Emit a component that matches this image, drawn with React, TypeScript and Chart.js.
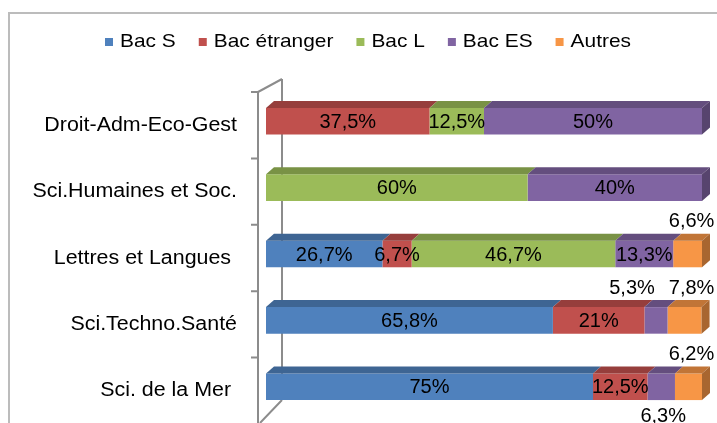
import React, { useEffect, useRef } from "react";
import { Chart, registerables } from "chart.js";
Chart.register(...registerables);

const categories = [
  "Droit-Adm-Eco-Gest",
  "Sci.Humaines et Soc.",
  "Lettres et Langues ",
  "Sci.Techno.Santé",
  "Sci. de la Mer ",
];
const seriesNames = ["Bac S", "Bac étranger", "Bac L", "Bac ES", "Autres"];
const bacS = [0, 0, 26.7, 65.8, 75];
const bacEtranger = [37.5, 0, 6.7, 21, 12.5];
const bacL = [12.5, 60, 46.7, 0, 0];
const bacES = [50, 40, 13.3, 5.3, 6.3];
const autres = [0, 0, 6.6, 7.8, 6.2];
const seriesValues = [bacS, bacEtranger, bacL, bacES, autres];

const colors = ["#4F81BD", "#C0504D", "#9BBB59", "#8064A2", "#F79646"];

// label placement for small segments: key = "categoryIndex-datasetIndex"
const outsideLabels: Record<string, { pos: "above" | "below"; dx: number }> = {
  "2-4": { pos: "above", dx: 4 },
  "3-3": { pos: "above", dx: -24 },
  "3-4": { pos: "above", dx: 7 },
  "4-4": { pos: "above", dx: 3 },
  "4-3": { pos: "below", dx: 2 },
};

const FONT = '"Liberation Sans", Arial, sans-serif';
const DX = 8;
const DY = -7;

function shade(hex: string, f: number) {
  const n = parseInt(hex.slice(1), 16);
  const r = Math.round(((n >> 16) & 255) * f);
  const g = Math.round(((n >> 8) & 255) * f);
  const b = Math.round((n & 255) * f);
  return `rgb(${r},${g},${b})`;
}

function fmt(v: number) {
  return String(v).replace(".", ",") + "%";
}

function drawScaledText(
  ctx: CanvasRenderingContext2D,
  text: string,
  x: number,
  y: number,
  size: number,
  sx: number,
  align: CanvasTextAlign
) {
  ctx.save();
  ctx.translate(x, y);
  ctx.scale(sx, 1);
  ctx.font = `${size}px ${FONT}`;
  ctx.textAlign = align;
  ctx.textBaseline = "middle";
  ctx.fillText(text, 0, 0);
  ctx.restore();
}

const decorPlugin = {
  id: "decor",
  beforeDraw(chart: any) {
    const ctx: CanvasRenderingContext2D = chart.ctx;
    ctx.save();
    // outer frame
    ctx.strokeStyle = "#bcbcbc";
    ctx.lineWidth = 2;
    ctx.beginPath();
    ctx.moveTo(9, chart.height + 5);
    ctx.lineTo(9, 13);
    ctx.lineTo(chart.width + 5, 13);
    ctx.stroke();

    // legend
    const legSize = 19;
    const legSx = 1.1;
    let x = 105;
    const ly = 42;
    chart.data.datasets.forEach((ds: any, k: number) => {
      ctx.fillStyle = colors[k];
      ctx.fillRect(x, ly - 4, 8, 8);
      ctx.fillStyle = "#000";
      drawScaledText(ctx, ds.label, x + 15, ly, legSize, legSx, "left");
      ctx.font = `${legSize}px ${FONT}`;
      const w = ctx.measureText(ds.label).width * legSx;
      x += 15 + w + 23;
    });
    ctx.restore();
  },
  beforeDatasetsDraw(chart: any) {
    const ctx: CanvasRenderingContext2D = chart.ctx;
    const ys = chart.scales.y;
    const { left } = chart.chartArea;
    const band = ys.getPixelForValue(1) - ys.getPixelForValue(0);
    const fx = left - 8;
    const bx = left + 16;
    const tickTop = ys.getPixelForValue(0) - band / 2 + 4;
    ctx.save();
    ctx.strokeStyle = "#8c8c8c";
    ctx.lineWidth = 2;
    ctx.beginPath();
    // back wall line
    ctx.moveTo(bx, tickTop - 13);
    ctx.lineTo(bx, chart.height - 23);
    // front axis
    ctx.moveTo(fx, tickTop);
    ctx.lineTo(fx, chart.height + 2);
    // top diagonal
    ctx.moveTo(fx, tickTop);
    ctx.lineTo(bx, tickTop - 13);
    // bottom diagonal
    ctx.moveTo(fx + 2, chart.height);
    ctx.lineTo(bx, chart.height - 23);
    // ticks
    for (let i = 0; i <= categories.length; i++) {
      const ty = ys.getPixelForValue(i) - band / 2 + 4;
      ctx.moveTo(fx - 7, ty);
      ctx.lineTo(fx, ty);
    }
    ctx.stroke();

    // category labels
    ctx.fillStyle = "#000";
    chart.data.labels.forEach((lab: string, i: number) => {
      drawScaledText(ctx, lab, 237, ys.getPixelForValue(i) + 4, 20, 1.07, "right");
    });
    ctx.restore();
  },
  afterDatasetsDraw(chart: any) {
    const ctx: CanvasRenderingContext2D = chart.ctx;
    const nCat = chart.data.labels.length;
    const nDs = chart.data.datasets.length;
    ctx.save();
    for (let i = 0; i < nCat; i++) {
      let lastK = -1;
      for (let k = 0; k < nDs; k++) {
        const el: any = chart.getDatasetMeta(k).data[i];
        const x1 = Math.min(el.base, el.x);
        const x2 = Math.max(el.base, el.x);
        if (x2 - x1 < 0.5) continue;
        lastK = k;
        const top = el.y - el.height / 2;
        ctx.fillStyle = shade(colors[k], 0.78);
        ctx.beginPath();
        ctx.moveTo(x1, top);
        ctx.lineTo(x2, top);
        ctx.lineTo(x2 + DX, top + DY);
        ctx.lineTo(x1 + DX, top + DY);
        ctx.closePath();
        ctx.fill();
      }
      if (lastK >= 0) {
        const el: any = chart.getDatasetMeta(lastK).data[i];
        const x2 = Math.max(el.base, el.x);
        const top = el.y - el.height / 2;
        const bot = el.y + el.height / 2;
        ctx.fillStyle = shade(colors[lastK], 0.68);
        ctx.beginPath();
        ctx.moveTo(x2, top);
        ctx.lineTo(x2 + DX, top + DY);
        ctx.lineTo(x2 + DX, bot + DY);
        ctx.lineTo(x2, bot);
        ctx.closePath();
        ctx.fill();
      }
    }
    // data labels
    ctx.fillStyle = "#000";
    ctx.font = `20px ${FONT}`;
    ctx.textAlign = "center";
    ctx.textBaseline = "middle";
    for (let i = 0; i < nCat; i++) {
      for (let k = 0; k < nDs; k++) {
        const v = seriesValues[k][i];
        if (!v) continue;
        const el: any = chart.getDatasetMeta(k).data[i];
        const cx = (el.base + el.x) / 2;
        const o = outsideLabels[`${i}-${k}`];
        if (o) {
          const y =
            o.pos === "above"
              ? el.y - el.height / 2 - 19
              : el.y + el.height / 2 + 16;
          ctx.fillText(fmt(v), cx + o.dx, y);
        } else {
          ctx.fillText(fmt(v), cx, el.y + 1);
        }
      }
    }
    ctx.restore();
  },
};

export default function App() {
  const ref = useRef<HTMLCanvasElement>(null);
  useEffect(() => {
    const canvas = ref.current!;
    const chart = new Chart(canvas, {
      type: "bar",
      data: {
        labels: categories,
        datasets: seriesValues.map((vals, k) => ({
          label: seriesNames[k],
          data: vals,
          backgroundColor: colors[k],
          borderWidth: 0,
          categoryPercentage: 1,
          barPercentage: 0.4,
        })),
      },
      options: {
        indexAxis: "y",
        responsive: false,
        animation: false,
        devicePixelRatio: 1,
        events: [],
        layout: { padding: { left: 266, right: 15, top: 88, bottom: 3 } },
        scales: {
          x: { stacked: true, min: 0, max: 100, display: false },
          y: { stacked: true, display: false },
        },
        plugins: { legend: { display: false }, tooltip: { enabled: false } },
      },
      plugins: [decorPlugin],
    } as any);
    return () => chart.destroy();
  }, []);
  return (
    <div style={{ position: "fixed", left: 0, top: 0, width: 717, height: 423, background: "#fff" }}>
      <canvas ref={ref} width={717} height={423} style={{ display: "block", width: 717, height: 423 }} />
    </div>
  );
}
